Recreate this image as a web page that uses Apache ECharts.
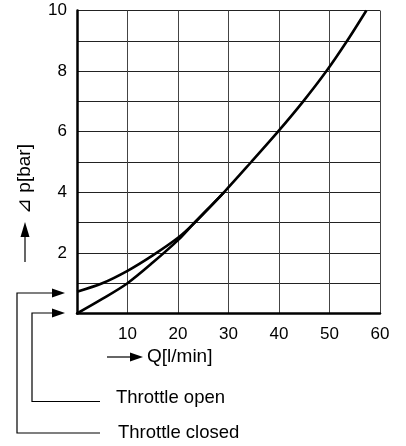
<!DOCTYPE html>
<html><head><meta charset="utf-8">
<script src="https://cdn.jsdelivr.net/npm/echarts@6/dist/echarts.min.js"></script>
<style>html,body{margin:0;padding:0;background:#fff}#c{width:406px;height:446px}</style>
</head><body><div id="c"></div>
<script>
// Data
const closedQ = [0, 5, 10, 15, 20, 23, 29.1, 34.5, 39.8, 44.8, 49.4, 53.5, 57.3];
const closedP = [0, 0.48, 1.0, 1.68, 2.42, 2.95, 4, 5, 6, 7, 8, 9, 10];
const openQ = [0, 5, 10, 15, 20, 23, 29.1];
const openP = [0.72, 1.0, 1.41, 1.92, 2.5, 2.95, 4];
const xTicks = [10, 20, 30, 40, 50, 60];
const yTicks = [2, 4, 6, 8, 10];
const yAxisName = '⊿ p[bar]';
const xAxisName = 'Q[l/min]';
const labelOpen = 'Throttle open';
const labelClosed = 'Throttle closed';

const FONT = '"Liberation Sans", Arial, sans-serif';
const chart = echarts.init(document.getElementById('c'), null, {renderer: 'canvas'});
const zip = (a, b) => a.map((v, i) => [v, b[i]]);
const black = '#000';

chart.setOption({
  animation: false,
  grid: {left: 77, right: 26, top: 10.5, bottom: 132.5, containLabel: false},
  xAxis: {
    type: 'value', min: 0, max: 60, interval: 10,
    axisLine: {show: true, onZero: false, lineStyle: {color: black, width: 2.5}},
    axisTick: {show: false},
    splitLine: {show: true, lineStyle: {color: '#444', width: 1}},
    axisLabel: {color: black, fontSize: 17, fontFamily: FONT, margin: 12,
      formatter: v => xTicks.includes(v) ? String(v) : ''}
  },
  yAxis: {
    type: 'value', min: 0, max: 10, interval: 1,
    axisLine: {show: true, onZero: false, lineStyle: {color: black, width: 2.5}},
    axisTick: {show: false},
    splitLine: {show: true, lineStyle: {color: '#222', width: 1}},
    axisLabel: {color: black, fontSize: 17, fontFamily: FONT, margin: 10,
      formatter: v => yTicks.includes(v) ? String(v) : ''}
  },
  series: [
    {type: 'line', name: labelClosed, data: zip(closedQ, closedP), smooth: 0.3, symbol: 'none',
      lineStyle: {color: black, width: 2.6}},
    {type: 'line', name: labelOpen, data: zip(openQ, openP), smooth: 0.3, symbol: 'none',
      lineStyle: {color: black, width: 2.6}}
  ],
  graphic: [
    // y-axis name with arrow
    {type: 'line', shape: {x1: 25, y1: 262, x2: 25, y2: 236}, style: {stroke: black, lineWidth: 1.2}},
    {type: 'polygon', shape: {points: [[25, 222], [20.5, 237], [29.5, 237]]}, style: {fill: black}},
    {type: 'text', x: 25, y: 179, rotation: Math.PI / 2,
      style: {text: yAxisName, font: '19px ' + FONT, fill: black, align: 'center', verticalAlign: 'middle'}},
    // x-axis name with arrow
    {type: 'line', shape: {x1: 107, y1: 357, x2: 131, y2: 357}, style: {stroke: black, lineWidth: 1.2}},
    {type: 'polygon', shape: {points: [[143, 357], [130, 352.5], [130, 361.5]]}, style: {fill: black}},
    {type: 'text', x: 147, y: 357,
      style: {text: xAxisName, font: '19px ' + FONT, fill: black, align: 'left', verticalAlign: 'middle'}},
    // callouts
    {type: 'polyline', shape: {points: [[100, 401.5], [32, 401.5], [32, 313], [53, 313]]}, style: {stroke: black, lineWidth: 1.2, fill: null}},
    {type: 'polygon', shape: {points: [[65, 313], [52, 308.5], [52, 317.5]]}, style: {fill: black}},
    {type: 'polyline', shape: {points: [[100, 433], [17, 433], [17, 293], [53, 293]]}, style: {stroke: black, lineWidth: 1.2, fill: null}},
    {type: 'polygon', shape: {points: [[65, 293], [52, 288.5], [52, 297.5]]}, style: {fill: black}},
    {type: 'text', x: 116, y: 398,
      style: {text: labelOpen, font: '18.5px ' + FONT, fill: black, align: 'left', verticalAlign: 'middle'}},
    {type: 'text', x: 118, y: 433,
      style: {text: labelClosed, font: '18.5px ' + FONT, fill: black, align: 'left', verticalAlign: 'middle'}}
  ]
});
</script></body></html>
